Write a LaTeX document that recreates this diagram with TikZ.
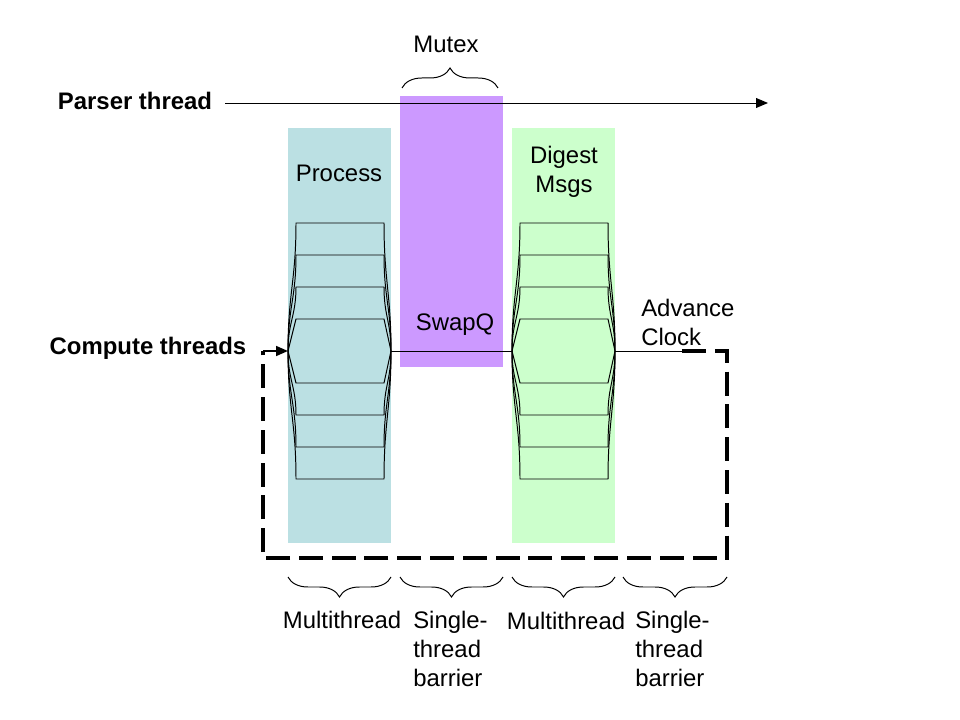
\documentclass[tikz,border=0pt]{standalone}
\usepackage{fontspec}
\setmainfont{Liberation Sans}
\usetikzlibrary{positioning}
\usetikzlibrary{decorations.pathreplacing}
\usetikzlibrary{arrows.meta}
\definecolor{procblue}{HTML}{BBE0E3}
\definecolor{swapviolet}{HTML}{CC99FF}
\definecolor{digestgreen}{HTML}{CCFFCC}
\tikzset{
  lbl/.style={inner sep=0pt, font=\fontsize{17}{20.6}\selectfont},
  boldlbl/.style={inner sep=0pt, font=\fontsize{17}{20.6}\selectfont\bfseries},
  thread/.style={line width=0.7pt},
  brc/.style={decorate, line width=0.7pt, decoration={brace, amplitude=0.5cm}},
  loopline/.style={line width=2.6pt, dash pattern=on 0.6cm off 0.22cm},
  tip/.style={-{Triangle[length=8.5pt,width=7pt]}}
}

\begin{document}
\begin{tikzpicture}[x=0.025cm, y=-0.025cm]
\useasboundingbox (0,0) rectangle (960,720);
% phase bands
\fill[procblue] (288,128) rectangle (391,543);
\fill[swapviolet] (400,96) rectangle (503,367);
\fill[digestgreen] (512,128) rectangle (615,543);

% parser thread
\node[boldlbl] (parser) at (135,101) {Parser thread};
\coordinate (pstart) at (225,103);
\coordinate (pend) at (768,103);
\draw[thread, tip] (pstart) -- (pend);

\node[lbl] (mutex) at (446,44) {Mutex};
\draw[brc] (402,88) -- (498,88);

\node[lbl] (process) at (339,173) {Process};
\node[lbl, align=center] (digest) at (564,172) {Digest\\Msgs};
\node[lbl] (swapq) at (455,325) {SwapQ};
\node[lbl, align=left, anchor=west] (clocklbl) at (641,322) {Advance\\Clock};

% thread fans
\foreach \fx/\fname in {288/proc,512/dig}{
  \coordinate (\fname-in) at (\fx,351);
  \coordinate (\fname-out) at (\fx+103,351);
  \foreach \ty in {223,255,287,415,447,479}
    \draw[thread] (\fname-in) .. controls (\fx,{351-0.45*(351-\ty)}) and (\fx+8,{\ty+0.45*(351-\ty)}) .. (\fx+8,\ty)
      -- (\fx+96,\ty) .. controls (\fx+96,{\ty+0.45*(351-\ty)}) and (\fx+103,{351-0.45*(351-\ty)}) .. (\fname-out);
  \foreach \ty in {319,383}
    \draw[thread] (\fname-in) -- (\fx+8,\ty) -- (\fx+96,\ty) -- (\fname-out);
}

% compute threads loop
\node[boldlbl] (compute) at (148,348) {Compute threads};
\coordinate (clock) at (682,351);
\coordinate (corner) at (263,351);
\draw[thread] (proc-out) -- (dig-in);
\draw[thread] (dig-out) -- (clock);
\draw[loopline] (clock) -- (727,351) -- (727,558) -- (263,558) -- (corner);
\draw[line width=1.4pt, tip] (corner) -- (proc-in);

% phases
\draw[brc] (391,577) -- (288,577);
\draw[brc] (503,577) -- (400,577);
\draw[brc] (615,577) -- (512,577);
\draw[brc] (727,577) -- (623,577);
\node[lbl] (multia) at (342,620) {Multithread};
\node[lbl, align=left, anchor=west] (barriera) at (413,649) {Single-\\thread\\barrier};
\node[lbl] (multib) at (566,621) {Multithread};
\node[lbl, align=left, anchor=west] (barrierb) at (635,649) {Single-\\thread\\barrier};
\end{tikzpicture}
\end{document}
